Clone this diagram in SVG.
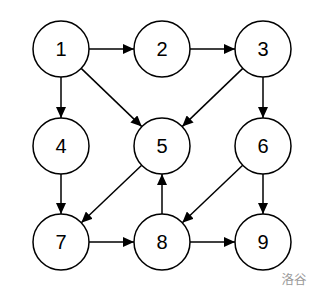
<svg xmlns="http://www.w3.org/2000/svg" width="321" height="299" viewBox="0 0 321 299">
<defs>
<style>
.n circle{fill:#fff;stroke:#000;stroke-width:1.5}
.n text{font-family:"Liberation Sans",Arial,sans-serif;font-size:20px;fill:#000;text-anchor:middle;dominant-baseline:central}
.e line{stroke:#000;stroke-width:1.5;marker-end:url(#a)}
.wm{font-family:"Noto Sans CJK SC",sans-serif;font-size:12.5px;fill:#999;text-anchor:middle}
</style>
<marker id="a" markerUnits="userSpaceOnUse" markerWidth="11" markerHeight="10" refX="11" refY="5" orient="auto">
<path d="M0,0 L11,5 L0,10 z" fill="#000"/>
</marker>
</defs>
<rect width="321" height="299" fill="#fff"/>
<g id="edges" class="e">
<line x1="89" y1="49" x2="134" y2="49"/>
<line x1="190" y1="49" x2="235" y2="49"/>
<line x1="89" y1="242" x2="134" y2="242"/>
<line x1="190" y1="242" x2="235" y2="242"/>
<line x1="61" y1="77" x2="61" y2="118"/>
<line x1="263" y1="77" x2="263" y2="118"/>
<line x1="61" y1="174" x2="61" y2="214"/>
<line x1="263" y1="174" x2="263" y2="214"/>
<line x1="162" y1="214" x2="162" y2="174"/>
<line x1="81.2" y1="68.4" x2="141.8" y2="126.6"/>
<line x1="242.8" y1="68.4" x2="182.2" y2="126.6"/>
<line x1="141.7" y1="165.3" x2="81.3" y2="222.7"/>
<line x1="242.7" y1="165.3" x2="182.3" y2="222.7"/>
</g>
<g id="n1" class="n"><circle cx="61" cy="49" r="28"/><text x="61" y="49">1</text></g>
<g id="n2" class="n"><circle cx="162" cy="49" r="28"/><text x="162" y="49">2</text></g>
<g id="n3" class="n"><circle cx="263" cy="49" r="28"/><text x="263" y="49">3</text></g>
<g id="n4" class="n"><circle cx="61" cy="146" r="28"/><text x="61" y="146">4</text></g>
<g id="n5" class="n"><circle cx="162" cy="146" r="28"/><text x="162" y="146">5</text></g>
<g id="n6" class="n"><circle cx="263" cy="146" r="28"/><text x="263" y="146">6</text></g>
<g id="n7" class="n"><circle cx="61" cy="242" r="28"/><text x="61" y="242">7</text></g>
<g id="n8" class="n"><circle cx="162" cy="242" r="28"/><text x="162" y="242">8</text></g>
<g id="n9" class="n"><circle cx="263" cy="242" r="28"/><text x="263" y="242">9</text></g>
<text class="wm" x="294" y="284">洛谷</text>
</svg>
